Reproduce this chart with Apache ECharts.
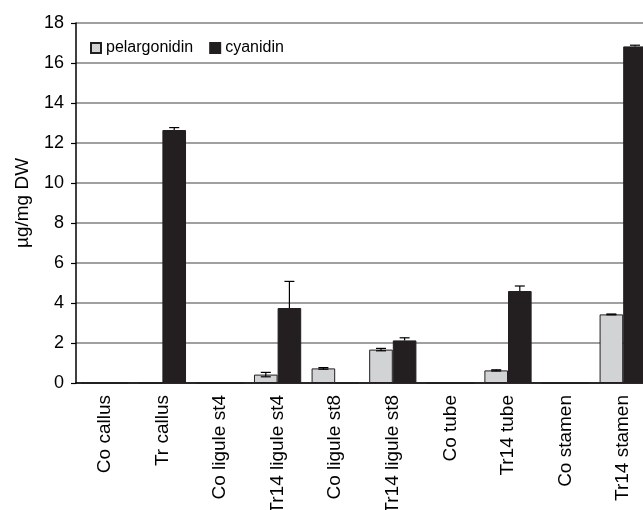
<!DOCTYPE html>
<html lang="en">
<head>
    <meta charset="UTF-8">
    <title>anthocyanidins</title>
    <script src="https://cdn.jsdelivr.net/npm/echarts@6/dist/echarts.min.js"></script>
    <style>
        html, body { margin: 0; padding: 0; background: #fff; }
        #main { width: 643px; height: 510px; }
    </style>
</head>
<body>
<div id="main"></div>
<script type="text/javascript">
    // data
    var categories = ['Co callus', 'Tr callus', 'Co ligule st4', 'Tr14 ligule st4', 'Co ligule st8',
        'Tr14 ligule st8', 'Co tube', 'Tr14 tube', 'Co stamen', 'Tr14 stamen'];
    var pelargonidin = [0, 0, 0, 0.42, 0.73, 1.67, 0, 0.63, 0, 3.43];
    var pelargonidinErr = [0, 0, 0, 0.11, 0.04, 0.06, 0, 0.03, 0, 0.02];
    var cyanidin = [0, 12.65, 0, 3.75, 0, 2.13, 0, 4.6, 0, 16.83];
    var cyanidinErr = [0, 0.12, 0, 1.33, 0, 0.13, 0, 0.25, 0, 0.06];
    var yTicks = [0, 2, 4, 6, 8, 10, 12, 14, 16, 18];

    var gapRatio = 0.18;
    var font = 'Liberation Sans, Arial, sans-serif';

    // error bar over one bar of the pair (side -1 = left, +1 = right)
    // lower half is skipped for the dark bars, it would be hidden anyway
    function errorSeries(values, errs, side, plusOnly) {
        var data = [];
        for (var i = 0; i < values.length; i++) {
            data.push([i, values[i], errs[i]]);
        }
        return {
            type: 'custom',
            z: 5,
            silent: true,
            data: data,
            renderItem: function (params, api) {
                var err = api.value(2);
                if (!err) return null;
                var v = api.value(1);
                var band = api.size([1, 0])[0];
                var barW = band * (1 - gapRatio) / 2;
                var c = api.coord([api.value(0), v]);
                var x = c[0] + side * barW / 2;
                var hi = api.coord([api.value(0), v + err])[1];
                var lo = plusOnly ? c[1] : api.coord([api.value(0), v - err])[1];
                var cap = 5;
                var st = { stroke: '#000', lineWidth: 1.2 };
                var kids = [
                    { type: 'line', shape: { x1: x, y1: hi, x2: x, y2: lo }, style: st },
                    { type: 'line', shape: { x1: x - cap, y1: hi, x2: x + cap, y2: hi }, style: st }
                ];
                if (!plusOnly) {
                    kids.push({ type: 'line', shape: { x1: x - cap, y1: lo, x2: x + cap, y2: lo }, style: st });
                }
                return { type: 'group', children: kids };
            }
        };
    }

    var myChart = echarts.init(document.getElementById('main'));

    var option = {
        animation: false,
        grid: { left: 76, right: -9, top: 23, bottom: 127, outerBoundsMode: 'none', containLabel: false },
        legend: {
            left: 85, top: 35,
            itemWidth: 10, itemHeight: 10, itemGap: 16,
            icon: 'rect',
            textStyle: { fontFamily: font, fontSize: 16, color: '#000' },
            data: ['pelargonidin', 'cyanidin']
        },
        xAxis: {
            type: 'category',
            data: categories,
            axisLine: { lineStyle: { color: '#000', width: 1.5 } },
            axisTick: { length: 5, lineStyle: { color: '#000', width: 1.2 } },
            axisLabel: { rotate: 90, margin: 12, fontFamily: font, fontSize: 19, color: '#000', interval: 0 }
        },
        yAxis: {
            type: 'value',
            min: yTicks[0], max: yTicks[yTicks.length - 1], interval: 2,
            name: 'µg/mg DW',
            nameLocation: 'middle',
            nameGap: 44,
            nameRotate: 90,
            nameTextStyle: { fontFamily: font, fontSize: 19, color: '#000' },
            axisLine: { show: true, lineStyle: { color: '#000', width: 1.5 } },
            axisTick: { show: true, length: 5, lineStyle: { color: '#000', width: 1.2 } },
            axisLabel: { fontFamily: font, fontSize: 18, color: '#000', margin: 12 },
            splitLine: { lineStyle: { color: '#808080', width: 1.5 } }
        },
        series: [
            {
                name: 'pelargonidin',
                type: 'bar',
                data: pelargonidin,
                barGap: '0%',
                barCategoryGap: (gapRatio * 100) + '%',
                itemStyle: { color: '#d2d3d5', borderColor: '#231f20', borderWidth: 1 }
            },
            {
                name: 'cyanidin',
                type: 'bar',
                data: cyanidin,
                barGap: '0%',
                barCategoryGap: (gapRatio * 100) + '%',
                itemStyle: { color: '#231f20', borderColor: '#231f20', borderWidth: 1 }
            },
            errorSeries(pelargonidin, pelargonidinErr, -1, false),
            errorSeries(cyanidin, cyanidinErr, 1, true)
        ]
    };

    myChart.setOption(option);
</script>
</body>
</html>
